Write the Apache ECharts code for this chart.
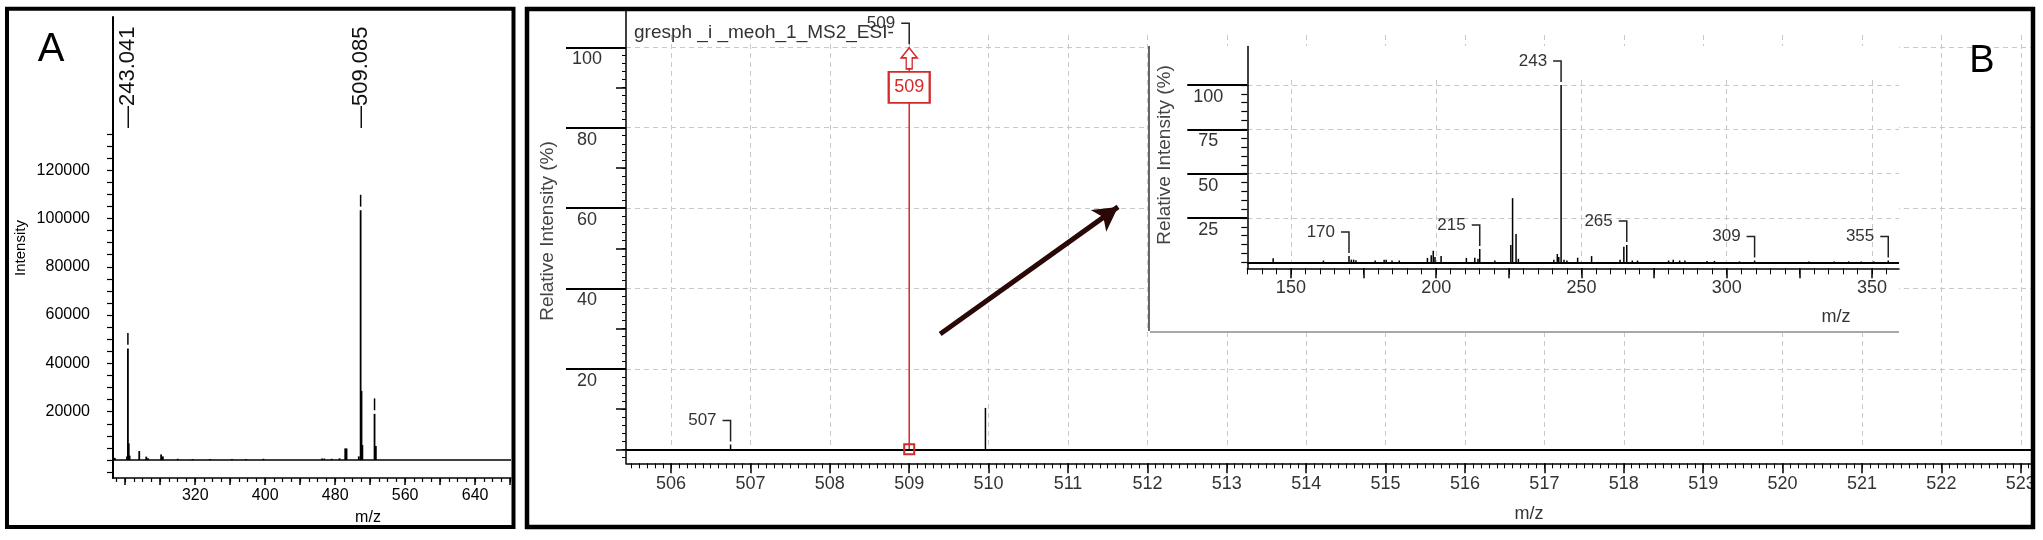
<!DOCTYPE html>
<html><head><meta charset="utf-8">
<script src="https://cdn.jsdelivr.net/npm/echarts/dist/echarts.min.js"></script>
<style>html,body{margin:0;padding:0;background:#fff}#c{width:2043px;height:540px}</style>
</head><body><div id="c"></div>
<script>
// ---------------- Panel A : full-scan MS (absolute intensity) ----------------
const aMz  = [228, 242, 243.041, 244, 245, 256, 264, 266, 281, 283, 300, 317, 337, 362, 378, 398, 465, 467.5, 476, 485, 491.5, 493, 507, 509.085, 510.09, 511.08, 525, 526.5];
const aInt = [900, 1500, 46200, 6900, 1800, 3700, 1400, 700, 2300, 1500, 500, 400, 400, 400, 400, 500, 600, 600, 500, 700, 4800, 4800, 1500, 103400, 28600, 6200, 19100, 5800];
const aDashMz = [243.041, 509.085, 525];
const aDashLo = [47700, 104900, 20600];
const aDashHi = [52600, 109800, 25500];
const aTagMz   = [243.041, 509.085];
const aTagText = ['\u2014243.041', '\u2014509.085'];
const aXLabels = [320, 400, 480, 560, 640];
const aYLabels = [20000, 40000, 60000, 80000, 100000, 120000];

// ---------------- Panel B main : zoom around m/z 509 (relative %) ----------------
const bMz  = [506.75, 509.96];
const bInt = [1.2, 10.3];
const bSelMz  = [509.0];
const bSelInt = [100];
const bTagMz   = [506.75, 509.0];
const bTagText = ['507', '509'];
const bXLabels = [506, 507, 508, 509, 510, 511, 512, 513, 514, 515, 516, 517, 518, 519, 520, 521, 522, 523];
const bYLabels = [20, 40, 60, 80, 100];

// ---------------- Panel B inset : MS2 of m/z 509 ----------------
const cMz  = [143.9, 161.2, 170, 170.8, 171.6, 172.4, 179, 182.1, 182.8, 184.8, 187.3, 197, 198.3, 199.0, 199.6, 201.7, 210.4, 213.3, 214.4, 215, 220.2, 225.7, 226.3, 227.5, 228.3, 240.5, 241.7, 242.2, 243, 244, 245, 248.7, 253.5, 263.3, 264.6, 265.6, 267.5, 269.3, 280, 281.6, 283.8, 285.6, 293.2, 295.8, 304.4, 309.6, 328.3, 337, 342, 346.3, 350.6, 355.6];
const cInt = [2.3, 1.0, 3.5, 1.5, 1.5, 1.2, 1.0, 1.5, 1.5, 1.0, 1.0, 2.5, 4.0, 6.5, 3.0, 3.5, 2.5, 2.5, 2.0, 7.5, 1.0, 9.8, 36.2, 16.0, 2.0, 1.5, 4.7, 3.0, 100, 1.5, 1.0, 2.6, 3.5, 1.5, 8.8, 9.8, 1.0, 1.0, 1.0, 1.5, 1.0, 1.0, 0.8, 0.8, 0.5, 1.0, 0.5, 0.5, 0.5, 0.5, 0.5, 1.0];
const cTagMz   = [170, 215, 243, 265.6, 309.6, 355.6];
const cTagText = ['170', '215', '243', '265', '309', '355'];
const cXLabels = [150, 200, 250, 300, 350];
const cYLabels = [25, 50, 75, 100];

// ---------------- helpers ----------------
const FONT = "'Liberation Sans', Arial, Helvetica, sans-serif";
const RED = '#d42a2a';
function steps(a, b, s) { const r = []; for (let v = a; v <= b + 1e-9; v += s) r.push(Math.round(v * 1000) / 1000); return r; }
function pairs(xs, ys) { return xs.map((x, i) => [x, ys[i]]); }
function lookup(xs, ys, m) { return ys[xs.indexOf(m)]; }
const plain = (v) => String(v);

function stickItem(color, w) {
  return function (params, api) {
    const x = api.value(0), y = api.value(1);
    const a = api.coord([x, 0]), b = api.coord([x, y]);
    return { type: 'line', shape: { x1: a[0], y1: a[1], x2: b[0], y2: b[1] }, style: { stroke: color, lineWidth: w } };
  };
}
function dashItem(params, api) {
  const x = api.value(0);
  const a = api.coord([x, api.value(1)]), b = api.coord([x, api.value(2)]);
  return { type: 'line', shape: { x1: a[0], y1: a[1], x2: b[0], y2: b[1] }, style: { stroke: '#000', lineWidth: 1.5 } };
}
function tagItem(texts, color) {
  return function (params, api) {
    const p = api.coord([api.value(0), api.value(1)]);
    const t = p[1] - 24;
    return { type: 'group', children: [
      { type: 'polyline', shape: { points: [[p[0] - 8, t], [p[0], t], [p[0], p[1] - 3]] }, style: { stroke: '#222', lineWidth: 1.5, fill: null } },
      { type: 'text', x: p[0] - 14, y: t, style: { text: texts[params.dataIndex], font: '17px ' + FONT, fill: color, align: 'right', textAlign: 'right', verticalAlign: 'middle', textVerticalAlign: 'middle' } }
    ] };
  };
}
function rotTagItem(params, api) {
  const x = api.coord([api.value(0), 0])[0];
  const yb = params.coordSys.y + 111;
  return { type: 'text', x: x, y: yb, rotation: Math.PI / 2,
    style: { text: aTagText[params.dataIndex], font: '22px ' + FONT, fill: '#111', align: 'left', textAlign: 'left', verticalAlign: 'middle', textVerticalAlign: 'middle' } };
}
const blk = (w) => ({ color: '#000', width: w });
const dashGrid = { show: true, lineStyle: { color: '#c8c8c8', width: 1, type: [5, 4] } };

// B layout numbers
const bLeft = 626, bRight = 2033, bTop = 10, bBottom = 463.3, bBase = 449.3;
const cLeft = 1247.3, cRight = 1899, cTop = 46.5, cBottom = 268.3, cBase = 262.3;

const option = {
  animation: false,
  backgroundColor: '#fff',
  textStyle: { fontFamily: FONT },
  grid: [
    { left: 113, top: 17, width: 398, height: 461 },                                   // 0 A
    { left: bLeft, top: bTop, width: bRight - bLeft, height: bBottom - bTop },         // 1 B
    { left: bLeft, top: 35, width: bRight - bLeft, height: bBase - 35 },               // 2 B v-grid
    { left: cLeft, top: cTop, width: cRight - cLeft, height: cBottom - cTop },         // 3 inset
    { left: cLeft, top: 80, width: cRight - cLeft, height: cBase - 80 }                // 4 inset v-grid
  ],
  xAxis: [
    { gridIndex: 0, type: 'value', min: 226, max: 681, position: 'bottom',
      axisLine: { onZero: false, lineStyle: blk(1.5) },
      axisTick: { customValues: steps(240, 680, 40), length: 7, lineStyle: blk(1.5) },
      axisLabel: { customValues: aXLabels, formatter: plain, fontSize: 16, color: '#000', margin: 10, fontFamily: FONT },
      splitLine: { show: false } },
    { gridIndex: 0, type: 'value', min: 226, max: 681, position: 'bottom',
      axisLine: { show: false, onZero: false },
      axisTick: { customValues: steps(230, 680, 10), length: 4, lineStyle: blk(1.2) },
      axisLabel: { show: false }, splitLine: { show: false } },
    { gridIndex: 1, type: 'value', min: 505.433, max: 523.154, position: 'bottom', z: 1,
      axisLine: { onZero: false, lineStyle: blk(1.5) },
      axisTick: { customValues: bXLabels, length: 10, lineStyle: blk(1.5) },
      axisLabel: { customValues: bXLabels, formatter: plain, fontSize: 18, color: '#333', margin: 12, fontFamily: FONT },
      splitLine: { show: false } },
    { gridIndex: 1, type: 'value', min: 505.433, max: 523.154, position: 'bottom', z: 1,
      axisLine: { show: false, onZero: false },
      axisTick: { customValues: steps(505.5, 523.1, 0.1), length: 5, lineStyle: blk(1) },
      axisLabel: { show: false }, splitLine: { show: false } },
    { gridIndex: 2, type: 'value', min: 505.433, max: 523.154, position: 'bottom', z: 0,
      axisLine: { show: false, onZero: false },
      axisTick: { show: false, customValues: bXLabels }, axisLabel: { show: false },
      splitLine: dashGrid },
    { gridIndex: 3, type: 'value', min: 135, max: 359.3, position: 'bottom', z: 60,
      axisLine: { onZero: false, lineStyle: blk(1.5) },
      axisTick: { customValues: steps(150, 350, 25), length: 10, lineStyle: blk(1.5) },
      axisLabel: { customValues: cXLabels, formatter: plain, fontSize: 18, color: '#333', margin: 11, fontFamily: FONT },
      splitLine: { show: false } },
    { gridIndex: 3, type: 'value', min: 135, max: 359.3, position: 'bottom', z: 60,
      axisLine: { show: false, onZero: false },
      axisTick: { customValues: steps(135, 355, 5), length: 6, lineStyle: blk(1) },
      axisLabel: { show: false }, splitLine: { show: false } },
    { gridIndex: 4, type: 'value', min: 135, max: 359.3, position: 'bottom', z: 55,
      axisLine: { show: false, onZero: false },
      axisTick: { show: false, customValues: cXLabels }, axisLabel: { show: false },
      splitLine: dashGrid }
  ],
  yAxis: [
    { gridIndex: 0, type: 'value', min: -7450, max: 183400, position: 'left',
      axisLine: { show: true, onZero: false, lineStyle: blk(2) },
      axisTick: { customValues: steps(-5000, 135000, 5000), length: 6, lineStyle: blk(1.2) },
      axisLabel: { customValues: aYLabels, formatter: plain, fontSize: 16, color: '#000', margin: 23, fontFamily: FONT },
      splitLine: { show: false } },
    { gridIndex: 1, type: 'value', min: -3.48, max: 109.28, position: 'left', z: 1,
      axisLine: { show: true, onZero: false, lineStyle: blk(1.5) },
      axisTick: { customValues: bYLabels, length: 60, lineStyle: blk(2) },
      axisLabel: { customValues: bYLabels, formatter: plain, fontSize: 18, color: '#333', margin: 39, align: 'center', verticalAlign: 'top', lineHeight: 24, fontFamily: FONT },
      splitLine: dashGrid },
    { gridIndex: 1, type: 'value', min: -3.48, max: 109.28, position: 'left', z: 1,
      axisLine: { show: false, onZero: false },
      axisTick: { customValues: steps(-2, 100, 2), length: 4, lineStyle: blk(1) },
      axisLabel: { show: false }, splitLine: { show: false } },
    { gridIndex: 1, type: 'value', min: -3.48, max: 109.28, position: 'left', z: 1,
      axisLine: { show: false, onZero: false },
      axisTick: { customValues: [0, 10, 30, 50, 70, 90], length: 10, lineStyle: blk(1.5) },
      axisLabel: { show: false }, splitLine: { show: false } },
    { gridIndex: 2, type: 'value', min: 0, max: 100, position: 'left', show: false },
    { gridIndex: 3, type: 'value', min: -3.38, max: 121.7, position: 'left', z: 60,
      axisLine: { show: true, onZero: false, lineStyle: blk(1.5) },
      axisTick: { customValues: cYLabels, length: 60, lineStyle: blk(2) },
      axisLabel: { customValues: cYLabels, formatter: plain, fontSize: 18, color: '#333', margin: 39, align: 'center', verticalAlign: 'top', lineHeight: 24, fontFamily: FONT },
      splitLine: dashGrid },
    { gridIndex: 3, type: 'value', min: -3.38, max: 121.7, position: 'left', z: 60,
      axisLine: { show: false, onZero: false },
      axisTick: { customValues: steps(0, 100, 5), length: 6, lineStyle: blk(1.2) },
      axisLabel: { show: false }, splitLine: { show: false } },
    { gridIndex: 4, type: 'value', min: 0, max: 100, position: 'left', show: false }
  ],
  series: [
    { type: 'custom', name: 'A', xAxisIndex: 0, yAxisIndex: 0, clip: false, z: 3,
      data: pairs(aMz, aInt), renderItem: stickItem('#000', 1.8),
      markLine: { silent: true, symbol: ['none', 'none'], label: { show: false },
        lineStyle: { color: '#000', width: 1.5, type: 'solid' }, data: [{ yAxis: 0 }] } },
    { type: 'custom', name: 'A dash', xAxisIndex: 0, yAxisIndex: 0, clip: false, z: 3,
      data: aDashMz.map((m, i) => [m, aDashLo[i], aDashHi[i]]), renderItem: dashItem },
    { type: 'custom', name: 'A tags', xAxisIndex: 0, yAxisIndex: 0, clip: false, z: 3,
      data: aTagMz.map(m => [m, 0]), renderItem: rotTagItem },

    { type: 'custom', name: 'B', xAxisIndex: 2, yAxisIndex: 1, clip: false, z: 3,
      data: pairs(bMz, bInt), renderItem: stickItem('#000', 1.5),
      markLine: { silent: true, symbol: ['none', 'none'], label: { show: false },
        lineStyle: { color: '#000', width: 2, type: 'solid' },
        data: [
          { yAxis: 0 },
          [ { coord: [509.39, 28.7], symbol: 'none', lineStyle: { color: '#2b0808', width: 5, type: 'solid' } },
            { coord: [511.63, 60.3], symbol: 'arrow', symbolSize: [20, 24] } ]
        ] } },
    { type: 'custom', name: 'B sel', xAxisIndex: 2, yAxisIndex: 1, clip: false, z: 4,
      data: pairs(bSelMz, bSelInt), renderItem: stickItem(RED, 1.5),
      markPoint: { silent: true, data: [
        { coord: [bSelMz[0], bSelInt[0]], symbol: 'path://M8,0 L16,10 L11,10 L11,21 L5,21 L5,10 L0,10 Z', symbolSize: [16, 21], symbolOffset: [0, 11],
          itemStyle: { color: '#fff', borderColor: RED, borderWidth: 1.5 }, label: { show: false } },
        { coord: [bSelMz[0], bSelInt[0]], symbol: 'rect', symbolSize: [41, 31], symbolOffset: [0, 40],
          itemStyle: { color: '#fff', borderColor: RED, borderWidth: 2 },
          label: { show: true, position: 'inside', formatter: '509', color: RED, fontSize: 18, fontFamily: FONT } },
        { coord: [bSelMz[0], 0], symbol: 'rect', symbolSize: 10,
          itemStyle: { color: 'rgba(255,255,255,0)', borderColor: RED, borderWidth: 2 }, label: { show: false } }
      ] } },
    { type: 'custom', name: 'B tags', xAxisIndex: 2, yAxisIndex: 1, clip: false, z: 4,
      data: bTagMz.map(m => [m, lookup(bMz.concat(bSelMz), bInt.concat(bSelInt), m)]), renderItem: tagItem(bTagText, '#333') },

    { type: 'custom', name: 'C', xAxisIndex: 5, yAxisIndex: 5, clip: false, z: 70,
      data: pairs(cMz, cInt), renderItem: stickItem('#000', 1.5),
      markLine: { silent: true, symbol: ['none', 'none'], label: { show: false }, z: 70,
        lineStyle: { color: '#000', width: 2, type: 'solid' }, data: [{ yAxis: 0 }] } },
    { type: 'custom', name: 'C tags', xAxisIndex: 5, yAxisIndex: 5, clip: false, z: 70,
      data: cTagMz.map(m => [m, lookup(cMz, cInt, m)]), renderItem: tagItem(cTagText, '#333') }
  ],
  graphic: { elements: [
    // inset white background + frame
    { type: 'rect', z: 50, silent: true, shape: { x: 1149, y: 46, width: cRight - 1149, height: 286 }, style: { fill: '#fff', stroke: 'none' } },
    { type: 'line', z: 51, silent: true, shape: { x1: 1149, y1: 46, x2: 1149, y2: 331 }, style: { stroke: '#333', lineWidth: 1.5 } },
    { type: 'line', z: 51, silent: true, shape: { x1: 1150, y1: 332, x2: cRight, y2: 332 }, style: { stroke: '#a8a8a8', lineWidth: 2 } },
    // panel borders
    { type: 'rect', z: 100, silent: true, shape: { x: 7, y: 8.7, width: 506.5, height: 518.3 }, style: { fill: 'none', stroke: '#000', lineWidth: 4 } },
    { type: 'rect', z: 100, silent: true, shape: { x: 527, y: 9, width: 1506, height: 518 }, style: { fill: 'none', stroke: '#000', lineWidth: 4.5 } },
    // texts
    { type: 'text', z: 101, x: 51, y: 50, style: { text: 'A', font: '40px ' + FONT, fill: '#000', align: 'center', textAlign: 'center', verticalAlign: 'middle', textVerticalAlign: 'middle' } },
    { type: 'text', z: 101, x: 1982, y: 62, style: { text: 'B', font: '38px ' + FONT, fill: '#000', align: 'center', textAlign: 'center', verticalAlign: 'middle', textVerticalAlign: 'middle' } },
    { type: 'text', z: 101, x: 21, y: 248, rotation: Math.PI / 2, style: { text: 'Intensity', font: '15px ' + FONT, fill: '#000', align: 'center', textAlign: 'center', verticalAlign: 'middle', textVerticalAlign: 'middle' } },
    { type: 'text', z: 101, x: 368, y: 518, style: { text: 'm/z', font: '16px ' + FONT, fill: '#000', align: 'center', textAlign: 'center', verticalAlign: 'middle', textVerticalAlign: 'middle' } },
    { type: 'text', z: 101, x: 634, y: 33, style: { text: 'gresph _i _meoh_1_MS2_ESI-', font: '19px ' + FONT, fill: '#333', align: 'left', textAlign: 'left', verticalAlign: 'middle', textVerticalAlign: 'middle' } },
    { type: 'text', z: 101, x: 548, y: 231, rotation: Math.PI / 2, style: { text: 'Relative Intensity (%)', font: '19px ' + FONT, fill: '#444', align: 'center', textAlign: 'center', verticalAlign: 'middle', textVerticalAlign: 'middle' } },
    { type: 'text', z: 101, x: 1529, y: 514, style: { text: 'm/z', font: '18px ' + FONT, fill: '#333', align: 'center', textAlign: 'center', verticalAlign: 'middle', textVerticalAlign: 'middle' } },
    { type: 'text', z: 101, x: 1165, y: 155, rotation: Math.PI / 2, style: { text: 'Relative Intensity (%)', font: '19px ' + FONT, fill: '#444', align: 'center', textAlign: 'center', verticalAlign: 'middle', textVerticalAlign: 'middle' } },
    { type: 'text', z: 101, x: 1836, y: 317, style: { text: 'm/z', font: '18px ' + FONT, fill: '#333', align: 'center', textAlign: 'center', verticalAlign: 'middle', textVerticalAlign: 'middle' } }
  ] }
};
const chart = echarts.init(document.getElementById('c'), null, { renderer: 'canvas' });
chart.setOption(option);
</script></body></html>
